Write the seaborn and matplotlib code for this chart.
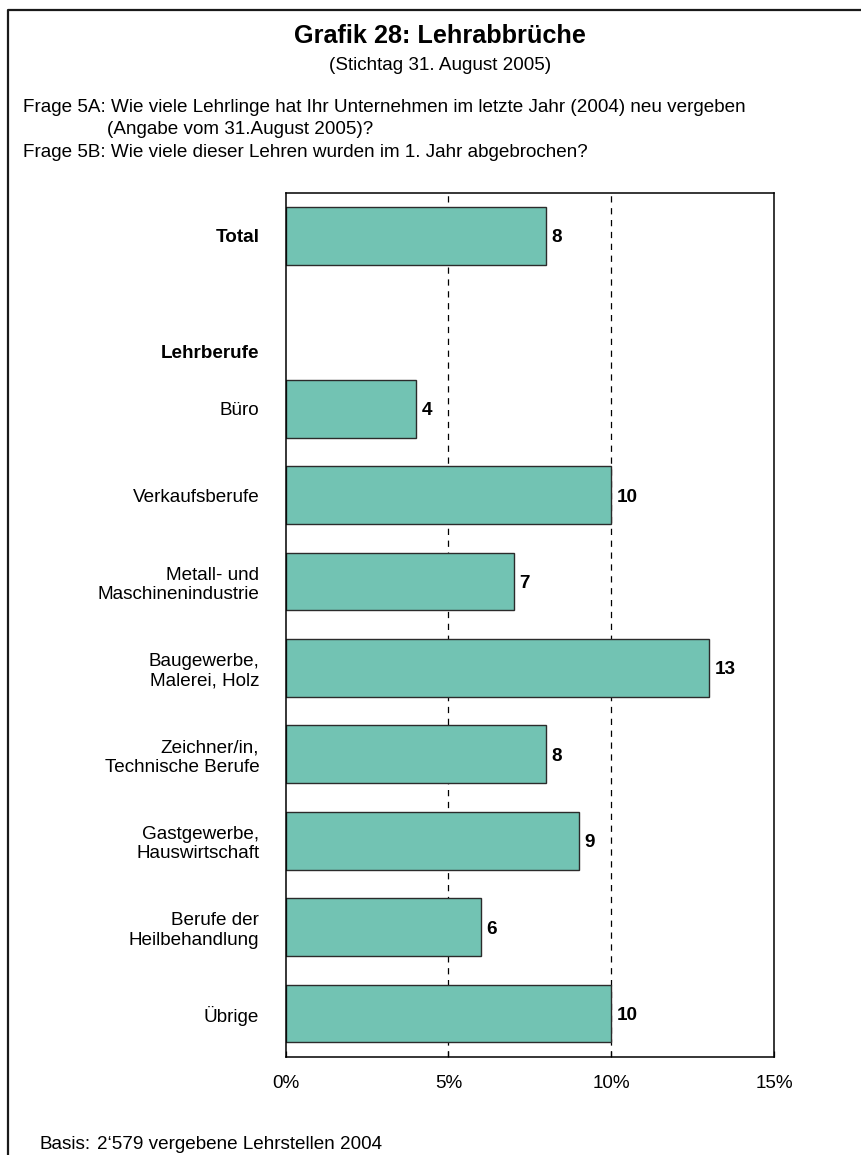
import matplotlib
matplotlib.use("Agg")
import matplotlib.pyplot as plt
import seaborn as sns
import pandas as pd
from matplotlib.lines import Line2D

# DATA

slots = ["Total", "Lehrberufe", "Büro", "Verkaufsberufe", "Metall- und\nMaschinenindustrie",
         "Baugewerbe,\nMalerei, Holz", "Zeichner/in,\nTechnische Berufe", "Gastgewerbe,\nHauswirtschaft",
         "Berufe der\nHeilbehandlung", "Übrige"]
bar_names = ["Total", "Büro", "Verkaufsberufe", "Metall- und\nMaschinenindustrie",
             "Baugewerbe,\nMalerei, Holz", "Zeichner/in,\nTechnische Berufe", "Gastgewerbe,\nHauswirtschaft",
             "Berufe der\nHeilbehandlung", "Übrige"]
bar_values = [8, 4, 10, 7, 13, 8, 9, 6, 10]
x_ticks = [0, 5, 10, 15]
x_ticklabels = ["0%", "5%", "10%", "15%"]

df = pd.DataFrame({"name": bar_names, "value": bar_values})

# STYLE

sns.set_theme(style="white")
plt.rcParams["font.family"] = ["Liberation Sans", "DejaVu Sans"]
plt.rcParams["text.color"] = "black"
plt.rcParams["xtick.color"] = "black"
plt.rcParams["ytick.color"] = "black"
plt.rcParams["axes.labelcolor"] = "black"
FS = 13.6
BAR_COLOR = "#72C3B3"

W, H, DPI = 862, 1155, 100
fig = plt.figure(figsize=(W / DPI, H / DPI), dpi=DPI)
ax = fig.add_axes([285.7 / W, 1 - 1056.7 / H, (774 - 285.7) / W, (1056.7 - 192.7) / H])

# grid first so the bars cover it
for gx in [5, 10]:
    ax.axvline(gx, color="black", lw=0.9, linestyle=(0, (5, 4.5)), zorder=0)

sns.barplot(data=df, x="value", y="name", order=slots, orient="h", width=0.667,
            color=BAR_COLOR, saturation=1, edgecolor="#2b2b2b", linewidth=1.0, ax=ax, zorder=2)

labels = ax.bar_label(ax.containers[0], fmt="%d", padding=4, fontsize=FS, fontweight="bold")
for t in labels:
    t.set_va("center_baseline")

ax.set_xlim(0, 15)
ax.set_xticks(x_ticks)
ax.set_xticklabels(x_ticklabels, fontsize=FS)
ax.set_xlabel("")
ax.set_ylabel("")
ax.tick_params(axis="x", direction="in", length=4, width=0.9, color="black", pad=13, bottom=True)
ax.tick_params(axis="y", length=0, pad=19)

ylabels = [s if s != "Lehrberufe" else "" for s in slots]
ax.set_yticklabels(ylabels, fontsize=FS)
for t in ax.get_yticklabels():
    if t.get_text() == "Total":
        t.set_fontweight("bold")

# header label sits a bit lower than its slot
ax.text(-0.054, 1.36, "Lehrberufe", transform=ax.get_yaxis_transform(), ha="right", va="center",
        fontsize=FS, fontweight="bold")

for sp in ax.spines.values():
    sp.set_visible(True)
    sp.set_color("black")
    sp.set_linewidth(1.1)

# TITLES / TEXT

fig.text(440 / W, 1 - 43 / H, "Grafik 28: Lehrabbrüche", ha="center", va="baseline",
         fontsize=18.2, fontweight="bold")
fig.text(440 / W, 1 - 70 / H, "(Stichtag 31. August 2005)", ha="center", va="baseline", fontsize=FS)
fig.text(22.7 / W, 1 - 112 / H, "Frage 5A: Wie viele Lehrlinge hat Ihr Unternehmen im letzte Jahr (2004) neu vergeben",
         ha="left", va="baseline", fontsize=FS)
fig.text(106.7 / W, 1 - 134.5 / H, "(Angabe vom 31.August 2005)?", ha="left", va="baseline", fontsize=FS)
fig.text(22.7 / W, 1 - 157 / H, "Frage 5B: Wie viele dieser Lehren wurden im 1. Jahr abgebrochen?",
         ha="left", va="baseline", fontsize=FS)
fig.text(40 / W, 1 - 1149 / H, "Basis:", ha="left", va="baseline", fontsize=FS)
fig.text(97 / W, 1 - 1149 / H, "2‘579 vergebene Lehrstellen 2004", ha="left", va="baseline", fontsize=FS)

# FRAME (left and top edge of the outer box)
fig.add_artist(Line2D([8.5 / W, 8.5 / W, 1.0], [0.0, 1 - 9.5 / H, 1 - 9.5 / H],
                      transform=fig.transFigure, color="#1a1a1a", lw=1.6))

plt.savefig("out.png", dpi=DPI)
